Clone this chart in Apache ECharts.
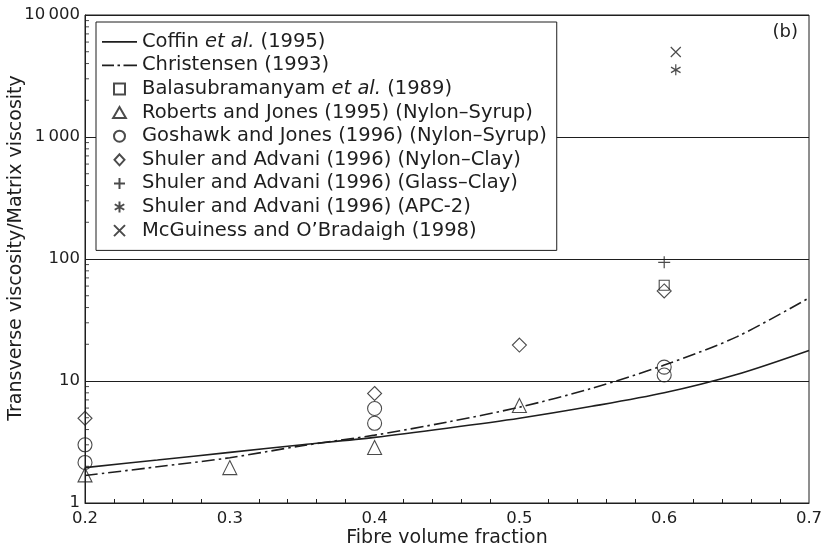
<!DOCTYPE html>
<html><head><meta charset="utf-8">
<script src="https://cdn.jsdelivr.net/npm/echarts@6/dist/echarts.min.js"></script>
<style>html,body{margin:0;padding:0;background:#fff}#c{width:827px;height:552px}</style>
</head><body><div id="c"></div>
<script>
// ---- data ----
const curveX = [0.2, 0.25, 0.3, 0.35, 0.4, 0.45, 0.5, 0.55, 0.6, 0.65, 0.7];
const coffinY = [1.95, 2.25, 2.6, 3.0, 3.45, 4.1, 4.95, 6.2, 8.0, 11.3, 17.8];
const christensenY = [1.68, 1.98, 2.35, 2.95, 3.6, 4.6, 6.1, 8.7, 13.5, 23, 48];

const balasX = [0.6];            const balasY = [61];
const robertsX = [0.2, 0.3, 0.4, 0.5];   const robertsY = [1.7, 1.95, 2.85, 6.3];
const goshawkX = [0.2, 0.2, 0.4, 0.4, 0.6, 0.6]; const goshawkY = [3.0, 2.15, 5.95, 4.5, 13.0, 11.2];
const shulerNCX = [0.2, 0.4, 0.5, 0.6];  const shulerNCY = [4.95, 7.9, 19.7, 54.7];
const shulerGCX = [0.6];          const shulerGCY = [94];
const apcX = [0.608];             const apcY = [3550];
const mcgX = [0.608];             const mcgY = [4970];

const xTicks = [0.2, 0.3, 0.4, 0.5, 0.6, 0.7];
const yTickLabels = {1: '1', 10: '10', 100: '100', 1000: '1\u2009000', 10000: '10\u2009000'};
const yMinorTicks = [2,3,4,5,6,7,8,9,20,30,40,50,60,70,80,90,200,300,400,500,600,700,800,900,2000,3000,4000,5000,6000,7000,8000,9000];

const names = {
  coffin: 'Coffin et al. (1995)',
  chris: 'Christensen (1993)',
  balas: 'Balasubramanyam et al. (1989)',
  roberts: 'Roberts and Jones (1995) (Nylon\u2013Syrup)',
  goshawk: 'Goshawk and Jones (1996) (Nylon\u2013Syrup)',
  shulerNC: 'Shuler and Advani (1996) (Nylon\u2013Clay)',
  shulerGC: 'Shuler and Advani (1996) (Glass\u2013Clay)',
  apc: 'Shuler and Advani (1996) (APC-2)',
  mcg: 'McGuiness and O\u2019Bradaigh (1998)'
};
const richNames = {};
richNames[names.coffin] = '{n|Coffin }{i|et al.}{n| (1995)}';
richNames[names.balas] = '{n|Balasubramanyam }{i|et al.}{n| (1989)}';

// ---- chart ----
const FONT = 'DejaVu Sans';
const INK = '#1e1e1e';
const zip = (xs, ys) => xs.map((x, i) => [x, ys[i]]);
const hollow = { color: 'rgba(0,0,0,0)', borderColor: INK, borderWidth: 1.1 };
const pathStyle = { color: 'rgba(0,0,0,0)', borderColor: INK, borderWidth: 1.2 };

const SYM = {
  plus: 'path://M5 0 L5 10 M0 5 L10 5',
  ast: 'path://M5 0 L5 10 M0.67 2.5 L9.33 7.5 M0.67 7.5 L9.33 2.5',
  cross: 'path://M0 0 L10 10 M0 10 L10 0',
  square: 'path://M0 0 H10 V10 H0 Z',
  tri: 'path://M5 0 L10.5 9.5 L-0.5 9.5 Z',
  dia: 'path://M5 0 L10 5.5 L5 11 L0 5.5 Z',
  solidIcon: 'path://M0 0 H35 V1.7 H0 Z',
  dashDotIcon: 'path://M0 0 H12 V1.7 H0 Z M15.5 0 H18 V1.7 H15.5 Z M21.5 0 H35 V1.7 H21.5 Z'
};

const scatter = (name, xs, ys, symbol, size, style) => ({
  name, type: 'scatter', data: zip(xs, ys), symbol, symbolSize: size,
  symbolKeepAspect: true, itemStyle: style, z: 5, silent: true
});

const FS = 19.5;
const chart = echarts.init(document.getElementById('c'), null, {renderer: 'canvas'});
chart.setOption({
  animation: false,
  backgroundColor: '#fff',
  textStyle: { fontFamily: FONT, color: INK },
  grid: { left: 85, right: 18, top: 15, bottom: 49, containLabel: false, outerBoundsMode: 'none',
          show: true, borderColor: INK, borderWidth: 1, backgroundColor: 'transparent' },
  xAxis: {
    type: 'value', min: 0.2, max: 0.7, interval: 0.1,
    name: 'Fibre volume fraction', nameLocation: 'middle', nameGap: 26, nameMoveOverlap: false,
    nameTextStyle: { fontSize: 19, color: INK, fontFamily: FONT },
    axisLine: { lineStyle: { color: INK, width: 1 } },
    axisTick: { show: false, inside: true },
    minorTick: { show: true, splitNumber: 5, length: 4, lineStyle: { color: INK, width: 1 } },
    splitLine: { show: false },
    axisLabel: { fontSize: 16.5, color: INK, margin: 7, fontFamily: FONT,
      formatter: v => { const t = xTicks.find(x => Math.abs(x - v) < 1e-6); return t === undefined ? '' : t.toFixed(1); } }
  },
  yAxis: {
    type: 'log', logBase: 10, min: 1, max: 10000,
    name: 'Transverse viscosity/Matrix viscosity', nameLocation: 'middle', nameGap: 59, nameMoveOverlap: false,
    nameTextStyle: { fontSize: 19, color: INK, fontFamily: FONT, padding: [0, 0, 0, 22] },
    axisLine: { lineStyle: { color: INK, width: 1 } },
    axisTick: { show: false },
    splitLine: { show: true, lineStyle: { color: INK, width: 1 } },
    axisLabel: { fontSize: 16.5, color: INK, margin: 5, fontFamily: FONT,
      formatter: v => yTickLabels[Math.round(v)] || '' }
  },
  legend: {
    orient: 'vertical', left: 96, top: 22,
    backgroundColor: '#fff', borderColor: INK, borderWidth: 1,
    padding: [8, 10, 8, 6], itemGap: 0, itemWidth: 35, itemHeight: 11,
    symbolKeepAspect: true,
    selectedMode: false,
    data: [
      { name: names.coffin, icon: SYM.solidIcon },
      { name: names.chris, icon: SYM.dashDotIcon },
      { name: names.balas, icon: SYM.square },
      { name: names.roberts, icon: SYM.tri },
      { name: names.goshawk, icon: 'circle' },
      { name: names.shulerNC, icon: SYM.dia },
      { name: names.shulerGC, icon: SYM.plus },
      { name: names.apc, icon: SYM.ast },
      { name: names.mcg, icon: SYM.cross }
    ],
    textStyle: { fontSize: FS, color: INK, fontFamily: FONT, lineHeight: 23.6,
      rich: { n: { fontSize: FS, fontFamily: FONT, color: INK, lineHeight: 23.6 },
              i: { fontSize: FS, fontFamily: FONT, color: INK, fontStyle: 'italic', lineHeight: 23.6 } } },
    formatter: name => richNames[name] || name
  },
  graphic: [{ type: 'text', right: 29, top: 23, style: { text: '(b)', fontSize: 18, fontFamily: FONT, fill: INK } }],
  series: [
    { name: names.coffin, type: 'line', data: zip(curveX, coffinY), smooth: 0.3, symbol: 'none',
      lineStyle: { color: INK, width: 1.6, type: 'solid' }, itemStyle: { color: INK }, z: 3, silent: true },
    { name: names.chris, type: 'line', data: zip(curveX, christensenY), smooth: 0.3, symbol: 'none',
      lineStyle: { color: INK, width: 1.6, type: [13, 4, 2.5, 4] }, itemStyle: { color: INK }, z: 3, silent: true },
    scatter(names.balas, balasX, balasY, 'rect', 10, hollow),
    scatter(names.roberts, robertsX, robertsY, 'triangle', 14, hollow),
    scatter(names.goshawk, goshawkX, goshawkY, 'circle', 14, hollow),
    scatter(names.shulerNC, shulerNCX, shulerNCY, 'diamond', 14, hollow),
    scatter(names.shulerGC, shulerGCX, shulerGCY, SYM.plus, 12, pathStyle),
    scatter(names.apc, apcX, apcY, SYM.ast, 11, pathStyle),
    scatter(names.mcg, mcgX, mcgY, SYM.cross, 10, pathStyle),
    { name: 'yMinor', type: 'scatter', data: yMinorTicks.map(v => [0.2, v]), symbol: 'rect',
      symbolSize: [4, 1], symbolOffset: [2, 0], itemStyle: { color: INK }, clip: false, silent: true, z: 4 }
  ]
});
</script></body></html>
